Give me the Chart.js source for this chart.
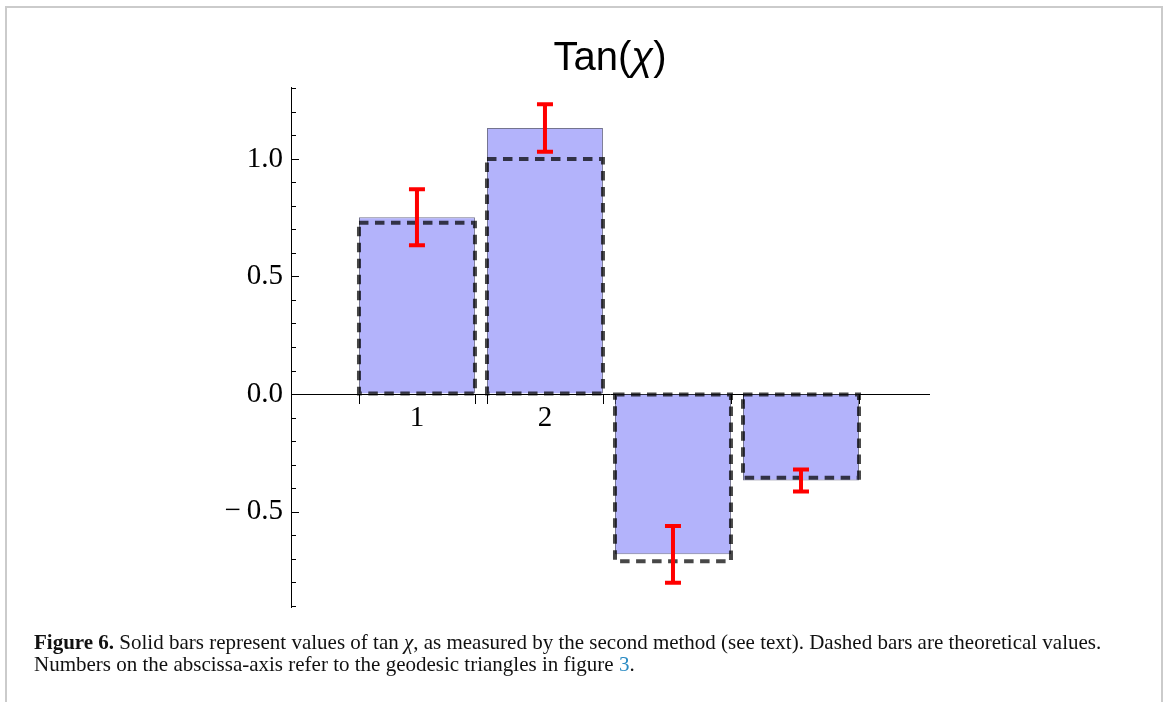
<!DOCTYPE html>
<html>
<head>
<meta charset="utf-8">
<title>Tan(χ)</title>
<script src="https://cdn.jsdelivr.net/npm/chart.js@4/dist/chart.umd.min.js"></script>
<style>
  html, body { margin: 0; padding: 0; background: #ffffff; }
  body { width: 1166px; height: 702px; position: relative; overflow: hidden; }
  #frame {
    position: absolute; left: 5px; top: 6px; width: 1154px; height: 720px;
    border: 2px solid #cbcbcb; border-bottom: none;
  }
  #wrap { position: absolute; left: 0; top: 0; width: 1166px; height: 702px; }
  #caption {
    position: absolute; left: 34px; top: 631px;
    font-family: "Liberation Serif", "Times New Roman", serif;
    font-size: 21px; line-height: 22px; color: #111111; white-space: nowrap;
  }
  #caption .ref { color: #2a8bc3; }
</style>
</head>
<body>
<div id="frame"></div>
<div id="wrap"><canvas id="chart" width="1166" height="702"></canvas></div>
<div id="caption"><b>Figure 6.</b> Solid bars represent values of tan <i>χ</i>, as measured by the second method (see text). Dashed bars are theoretical values.<br>Numbers on the abscissa-axis refer to the geodesic triangles in figure <span class="ref">3</span>.</div>

<script>
// Geodesic triangles on the abscissa
const categories = ['1', '2', '3', '4'];
// tan(chi) from the second method, with its uncertainty
const measured = [0.752, 1.132, -0.682, -0.368];
const measuredError = [0.119, 0.101, 0.121, 0.047];
// Theoretical tan(chi)
const theoretical = [0.729, 1.0, -0.711, -0.356];
// Labelled ticks on the ordinate
const yTickValues = [-0.5, 0.0, 0.5, 1.0];
const yTickLabels = ['−\u20090.5', '0.0', '0.5', '1.0'];
const yMinorStep = 0.1;
// Title pieces: text and font style
const titleParts = [['Tan(', 'normal'], ['χ', 'italic'], [')', 'normal']];

const serifFont = { family: '"Liberation Serif", "Times New Roman", serif', size: 29 };

// Inward ticks on both axes (minor every 0.1 on y, bar edges on x)
const axisTicks = {
  id: 'axisTicks',
  beforeDatasetsDraw(chart) {
    const { ctx, scales: { y } } = chart;
    const x0 = chart.chartArea.left;
    const y0 = y.getPixelForValue(0);
    ctx.save();
    ctx.strokeStyle = '#000000';
    ctx.lineWidth = 1;
    ctx.beginPath();
    const kStart = Math.ceil(y.min / yMinorStep - 1e-9);
    const kEnd = Math.floor(y.max / yMinorStep + 1e-9);
    for (let k = kStart; k <= kEnd; k++) {
      const v = k * yMinorStep;
      const isMajor = Math.abs(v * 2 - Math.round(v * 2)) < 1e-6;
      const py = Math.round(y.getPixelForValue(v)) + 0.5;
      ctx.moveTo(x0, py);
      ctx.lineTo(x0 + (isMajor ? 8 : 5), py);
    }
    const meta = chart.getDatasetMeta(0);
    meta.data.forEach(el => {
      const { x: cx, width } = el.getProps(['x', 'width'], true);
      [cx - width / 2, cx + width / 2].forEach(px => {
        const ax = Math.round(px) + 0.5;
        ctx.moveTo(ax, y0);
        ctx.lineTo(ax, y0 + 10);
      });
    });
    ctx.stroke();
    ctx.restore();
  }
};

// Dashed outlines for the theoretical bars and red error bars for the measured ones
const overlays = {
  id: 'overlays',
  afterDatasetsDraw(chart) {
    const { ctx, scales: { y } } = chart;
    ctx.save();
    const theoryMeta = chart.getDatasetMeta(1);
    ctx.strokeStyle = 'rgba(0, 0, 0, 0.72)';
    ctx.lineWidth = 4;
    ctx.setLineDash([9.5, 6.5]);
    theoryMeta.data.forEach(el => {
      const { x: cx, y: top, base, width } = el.getProps(['x', 'y', 'base', 'width'], true);
      const y1 = Math.min(top, base), y2 = Math.max(top, base);
      ctx.strokeRect(cx - width / 2, y1, width, y2 - y1);
    });
    ctx.setLineDash([]);

    const measMeta = chart.getDatasetMeta(0);
    ctx.strokeStyle = '#ff0000';
    ctx.lineWidth = 4;
    ctx.lineCap = 'butt';
    measMeta.data.forEach((el, i) => {
      const cx = el.getProps(['x'], true).x;
      const hi = y.getPixelForValue(measured[i] + measuredError[i]);
      const lo = y.getPixelForValue(measured[i] - measuredError[i]);
      ctx.beginPath();
      ctx.moveTo(cx, hi); ctx.lineTo(cx, lo);
      ctx.moveTo(cx - 8, hi); ctx.lineTo(cx + 8, hi);
      ctx.moveTo(cx - 8, lo); ctx.lineTo(cx + 8, lo);
      ctx.stroke();
    });
    ctx.restore();
  }
};

// Title with an italic chi
const mixedTitle = {
  id: 'mixedTitle',
  afterDraw(chart) {
    const { ctx, chartArea } = chart;
    const family = '"Liberation Sans", Arial, sans-serif';
    const size = 40;
    ctx.save();
    ctx.fillStyle = '#000000';
    ctx.textBaseline = 'alphabetic';
    let total = 0;
    const widths = titleParts.map(([t, style]) => {
      ctx.font = `${style} ${size}px ${family}`;
      const w = ctx.measureText(t).width;
      total += w;
      return w;
    });
    let px = (chartArea.left + chartArea.right) / 2 - total / 2;
    titleParts.forEach(([t, style], i) => {
      ctx.font = `${style} ${size}px ${family}`;
      ctx.fillText(t, px, 70);
      px += widths[i];
    });
    ctx.restore();
  }
};

new Chart(document.getElementById('chart'), {
  type: 'bar',
  data: {
    datasets: [
      {
        label: 'measured',
        data: measured.map((v, i) => ({ x: i + 1, y: v })),
        backgroundColor: '#b3b3fb',
        borderColor: 'rgba(70, 70, 105, 0.75)',
        borderWidth: 1,
        grouped: false,
        categoryPercentage: 1,
        barPercentage: 0.906
      },
      {
        label: 'theoretical',
        data: theoretical.map((v, i) => ({ x: i + 1, y: v })),
        backgroundColor: 'rgba(0, 0, 0, 0)',
        borderWidth: 0,
        grouped: false,
        categoryPercentage: 1,
        barPercentage: 0.906
      }
    ]
  },
  options: {
    responsive: false,
    animation: false,
    events: [],
    layout: { padding: { top: 87, left: 0, right: 237, bottom: 95 } },
    plugins: { legend: { display: false }, tooltip: { enabled: false }, title: { display: false } },
    scales: {
      x: {
        type: 'linear',
        offset: false,
        min: 0.016,
        max: 5,
        position: { y: 0 },
        afterBuildTicks: s => { s.ticks = categories.map((c, i) => ({ value: i + 1 })); },
        afterFit: s => { s.height = 0; },
        grid: { display: true, drawOnChartArea: false, drawTicks: false, offset: false },
        border: { display: true, color: '#000000', width: 1 },
        ticks: {
          padding: 7,
          color: '#000000',
          font: serifFont,
          maxRotation: 0,
          autoSkip: false,
          callback: v => categories[Math.round(v) - 1]
        }
      },
      y: {
        type: 'linear',
        min: -0.906,
        max: 1.306,
        afterBuildTicks: s => { s.ticks = yTickValues.map(v => ({ value: v })); },
        afterFit: s => { s.width = 291; },
        grid: { display: true, drawOnChartArea: false, drawTicks: false },
        border: { display: true, color: '#000000', width: 1 },
        ticks: {
          padding: 8,
          color: '#000000',
          font: serifFont,
          autoSkip: false,
          callback: (v, i) => yTickLabels[i]
        }
      }
    }
  },
  plugins: [axisTicks, overlays, mixedTitle]
});
</script>
</body>
</html>
